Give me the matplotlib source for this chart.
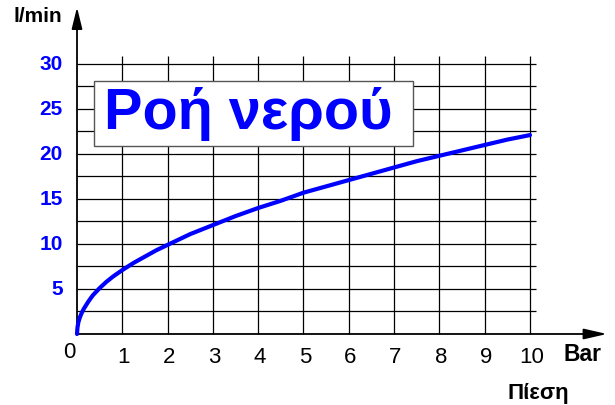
import numpy as np
import matplotlib.pyplot as plt
from matplotlib.patches import Rectangle

plt.rcParams['font.family'] = ['Liberation Sans', 'DejaVu Sans']

# flow readings: pressure (Bar) vs flow (l/min)
pressure = [0, 0.01, 0.03, 0.06, 0.1, 0.15, 0.25, 0.35, 0.5, 0.65, 0.8, 1, 1.25, 1.5, 1.75,
            2, 2.5, 3, 3.5, 4, 4.5, 5, 5.5, 6, 6.5, 7, 7.5, 8, 8.5, 9, 9.5, 10]
flow = [0, 0.7, 1.3, 1.8, 2.3, 2.8, 3.6, 4.3, 5.1, 5.8, 6.4, 7.1, 7.9, 8.6, 9.3,
        9.9, 11.1, 12.1, 13.1, 14.0, 14.8, 15.7, 16.4, 17.1, 17.8, 18.5, 19.2, 19.8,
        20.4, 21.0, 21.6, 22.1]

x_ticks = [1, 2, 3, 4, 5, 6, 7, 8, 9, 10]
y_ticks = [5, 10, 15, 20, 25, 30]
y_grid = [2.5, 5, 7.5, 10, 12.5, 15, 17.5, 20, 22.5, 25, 27.5, 30]

title = "Ροή νερού"
blue = '#0000ff'

fig = plt.figure(figsize=(6.15, 4.06), dpi=100)
ax = fig.add_axes([0, 0, 1, 1])
ax.set_xlim(-1.70, 11.877)
ax.set_ylim(-7.89, 37.22)
ax.axis('off')

# grid
ax.hlines(y_grid, 0, 10.13, color='black', lw=0.9, zorder=1)
ax.vlines(x_ticks, 0, 30.9, color='black', lw=0.9, zorder=1)

# axes with arrow heads
ax.annotate('', xy=(11.7, 0), xytext=(0, 0),
            arrowprops=dict(arrowstyle='-|>,head_length=1.4,head_width=0.32',
                            color='black', lw=1.3, shrinkA=0, shrinkB=0), zorder=3)
ax.annotate('', xy=(0, 36.3), xytext=(0, 0),
            arrowprops=dict(arrowstyle='-|>,head_length=1.3,head_width=0.32',
                            color='black', lw=1.3, shrinkA=0, shrinkB=0), zorder=3)

# curve
ax.plot(pressure, flow, color=blue, lw=3.0, solid_capstyle='round',
        solid_joinstyle='round', zorder=4)

# title box with a slight shadow
ax.add_patch(Rectangle((0.40, 20.75), 7.05, 7.2, facecolor='#888888',
                       edgecolor='none', zorder=5))
ax.add_patch(Rectangle((0.375, 20.9), 7.05, 7.2, facecolor='white',
                       edgecolor='#555555', lw=1.0, zorder=5))
ax.text(3.78, 24.5, title, color=blue, fontsize=41.5, fontweight='bold',
        ha='center', va='center', zorder=6)

# tick labels
for v in y_ticks:
    ax.text(-0.31, v, str(v), color=blue, fontsize=15, fontweight='bold',
            ha='right', va='center')
for v in x_ticks:
    ax.text(v + 0.03, -2.55, str(v), color='black', fontsize=16, ha='center', va='center')
ax.text(-0.18, -1.9, '0', color='black', fontsize=16, ha='center', va='center')

ax.text(-0.33, 35.4, 'l/min', color='black', fontsize=15, fontweight='bold',
        ha='right', va='center')
ax.text(10.73, -2.2, 'Bar', color='black', fontsize=16.5, fontweight='bold',
        ha='left', va='center')
ax.text(10.18, -6.5, 'Πίεση', color='black', fontsize=16, fontweight='bold',
        ha='center', va='center')

fig.savefig('out.png', dpi=100)
